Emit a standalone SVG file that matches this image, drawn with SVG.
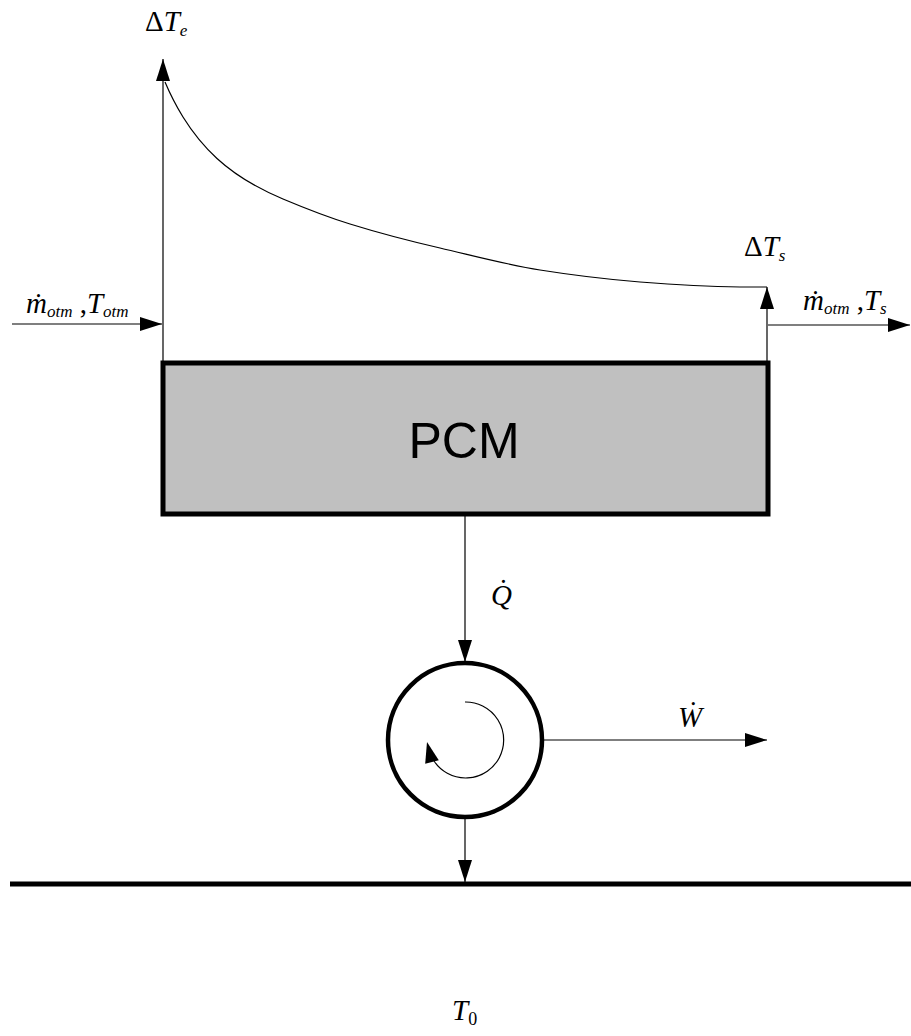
<svg xmlns="http://www.w3.org/2000/svg" width="911" height="1036" viewBox="0 0 911 1036">
<defs>
<style>
.ln{stroke:#000;stroke-width:1.2;fill:none}
.lb{font-family:"Liberation Serif","Times New Roman",serif;font-size:29px;fill:#000}
.it{font-style:italic}
.sb{font-size:17px;font-style:italic}
</style>
<marker id="ah" markerUnits="userSpaceOnUse" markerWidth="24" markerHeight="16" viewBox="0 0 24 16" refX="22" refY="8" orient="auto">
<path d="M0,1 L22,8 L0,15 Z" fill="#000"/>
</marker>
</defs>
<rect width="911" height="1036" fill="#fff"/>
<g id="connectors">
<line class="ln" x1="163" y1="362" x2="163" y2="59" marker-end="url(#ah)"/>
<line class="ln" x1="767" y1="362" x2="767" y2="287" marker-end="url(#ah)"/>
<line class="ln" x1="12" y1="324" x2="162" y2="324" marker-end="url(#ah)"/>
<line class="ln" x1="768" y1="325" x2="910" y2="325" marker-end="url(#ah)"/>
<line class="ln" x1="465" y1="516" x2="465" y2="662" marker-end="url(#ah)"/>
<line class="ln" x1="543" y1="740" x2="767" y2="740" marker-end="url(#ah)"/>
<line class="ln" x1="465" y1="818" x2="465" y2="882" marker-end="url(#ah)"/>
<path class="ln" d="M165,82 C171,96.1 177,107.3 183,117 C194.3,135.2 205.7,148.1 217,158.5 C239,178.7 261,189.8 283,199 C305.3,208.4 327.7,217.1 350,224 C380,233.3 410,241.1 440,248 C473.3,255.7 506.7,264.7 540,270 C573.3,275.3 606.7,279.3 640,282 C673.3,284.7 706.7,286.7 740,287 C749,287 758,287 767,287"/>
</g>
<g id="pcm">
<rect x="163" y="363" width="605" height="151" fill="#c0c0c0" stroke="#000" stroke-width="5"/>
<text x="464" y="458" text-anchor="middle" font-family="Liberation Sans, Arial, sans-serif" font-size="50">PCM</text>
</g>
<g id="engine">
<circle cx="465" cy="740" r="77" fill="none" stroke="#000" stroke-width="4.5"/>
<path class="ln" d="M465,702 A38,38 0 1 1 434,761" stroke-width="1"/>
<polygon points="427,742 425.2,763.7 438.8,760.3" fill="#000"/>
</g>
<g id="ground">
<line x1="10" y1="884" x2="911" y2="884" stroke="#000" stroke-width="5"/>
</g>
<g id="labels">
<text class="lb" x="145" y="31">Δ<tspan class="it">T</tspan><tspan class="sb" dy="5">e</tspan></text>
<text class="lb" x="744" y="256">Δ<tspan class="it">T</tspan><tspan class="sb" dy="5">s</tspan></text>
<text class="lb" x="26" y="313"><tspan class="it">ṁ</tspan><tspan class="sb" dy="4">otm</tspan><tspan dy="-4"> ,</tspan><tspan class="it">T</tspan><tspan class="sb" dy="4">otm</tspan></text>
<text class="lb" x="803" y="310"><tspan class="it">ṁ</tspan><tspan class="sb" dy="4">otm</tspan><tspan dy="-4"> ,</tspan><tspan class="it">T</tspan><tspan class="sb" dy="4">s</tspan></text>
<text class="lb it" x="491" y="605">Q̇</text>
<text class="lb it" x="678" y="727">Ẇ</text>
<text class="lb" x="452" y="1020"><tspan class="it">T</tspan><tspan font-size="18" dy="5">0</tspan></text>
</g>
</svg>
